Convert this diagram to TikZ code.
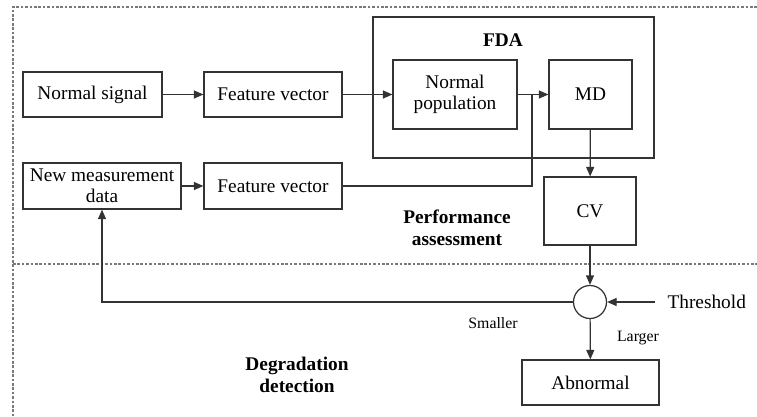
\documentclass[tikz,border=0pt]{standalone}
\usepackage{fontspec}
\setmainfont{Liberation Serif}
\usepackage{xcolor}
\usepackage{tikz}
\usetikzlibrary{calc,arrows.meta,positioning}
\definecolor{linec}{HTML}{333333}
\definecolor{dashc}{HTML}{7A7A7A}
\tikzset{
  ar/.style={-{Triangle[length=1.9mm,width=1.6mm]},line width=0.7pt,linec},
  ln/.style={line width=0.7pt,linec},
  box/.style={draw=linec,line width=0.7pt,align=center,inner sep=2pt,font=\fontsize{11}{12}\selectfont},
  region/.style={dashc,line width=0.6pt,dash pattern=on 1.5pt off 1pt},
  lab/.style={font=\fontsize{11}{12.5}\selectfont\bfseries,align=center},
  small/.style={font=\fontsize{9}{10}\selectfont}
}
\begin{document}
\begin{tikzpicture}[x=0.02cm,y=-0.02cm]
\useasboundingbox (0,0) rectangle (757,416);
% regions
\draw[region] (757,7)--(13,7)--(13,416);
\draw[region] (13,264)--(757,264);
% FDA block
\node[box,minimum width=5.62cm,minimum height=2.82cm] (fda) at (513.5,87.5) {};
\node[lab] (fdalab) at (503,40) {FDA};
\node[box,minimum width=2.78cm,minimum height=0.9cm] (ns) at (92.5,94.5) {Normal signal};
\node[box,minimum width=2.76cm,minimum height=0.9cm] (fv1) at (273,94.5) {Feature vector};
\node[box,minimum width=2.48cm,minimum height=1.38cm] (np) at (455,94.5) {Normal\\population};
\node[box,minimum width=1.66cm,minimum height=1.38cm] (md) at (590.5,94.5) {MD};
\node[box,minimum width=3.16cm,minimum height=0.92cm,inner sep=1pt] (nmd) at (102,186) {New measurement\\data};
\node[box,minimum width=2.76cm,minimum height=0.92cm] (fv2) at (273,186) {Feature vector};
\node[box,minimum width=1.84cm,minimum height=1.36cm] (cv) at (590,211) {CV};
\node[draw=linec,line width=0.7pt,circle,minimum size=0.66cm,inner sep=0pt] (cmp) at (590,302) {};
\node[box,draw=none,inner xsep=6.8pt,anchor=west] (thr) at (655,302) {Threshold};
\node[box,minimum width=2.74cm,minimum height=0.9cm] (abn) at (590.5,382.5) {Abnormal};
\coordinate (jn) at (532,94.5);
% labels
\node[lab] (perf) at (457,228) {Performance\\assessment};
\node[lab] (degr) at (297,375) {Degradation\\detection};
\node[small] (sml) at (493,323) {Smaller};
\node[small] (lrg) at (638,338) {Larger};
% connectors
\draw[ar] (ns)--(fv1);
\draw[ar] (fv1)--(np);
\draw[ar] (np)--(md);
\draw[ar] (nmd)--(fv2);
\draw[ln] (fv2.east)-|(jn);
\draw[ar] (md)--(cv);
\draw[ar] (cv)--(cmp);
\draw[ar] (thr.west)--(cmp.east);
\draw[ar] (cmp.west)-|(nmd.south);
\draw[ar] (cmp)--(abn);
\end{tikzpicture}
\end{document}
